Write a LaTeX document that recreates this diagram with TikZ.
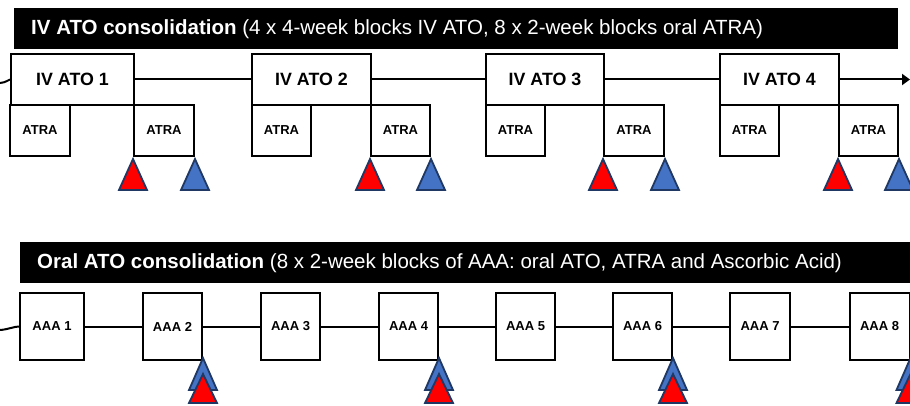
\documentclass[tikz,border=0pt]{standalone}
\usepackage{fontspec}
\setmainfont{Liberation Sans}
\usetikzlibrary{arrows.meta,calc}
\definecolor{tred}{HTML}{FF0000}
\definecolor{tblue}{HTML}{4472C4}
\definecolor{tedge}{HTML}{1F3864}
\newcommand{\mytri}[2]{\draw[tri,fill=#2] ($(#1)+(0,2)$) -- ++(-14,31) -- ++(28,0) -- cycle;}
\newcommand{\mytrib}[4]{\draw[tri,fill=#3] ($(#1)+(0,#2)$) -- ++(-14,#4) -- ++(28,0) -- cycle;}
\begin{document}
\begin{tikzpicture}[x=1pt,y=-1pt,
  ivbox/.style={draw,line width=2pt,fill=white,minimum height=51pt,inner sep=0pt,
    font=\fontsize{17.8}{20}\selectfont\bfseries},
  atrabox/.style={draw,line width=2pt,fill=white,minimum height=51pt,minimum width=59pt,inner sep=0pt,
    font=\fontsize{13}{15}\selectfont\bfseries},
  aaabox/.style={draw,line width=2pt,fill=white,minimum height=67pt,minimum width=59pt,inner sep=0pt,
    font=\fontsize{13}{15}\selectfont\bfseries},
  conn/.style={line width=2pt},
  tri/.style={draw=tedge,line width=1.8pt,line join=miter},
  bar/.style={fill=black},
  titletext/.style={anchor=base west,inner sep=0pt,text=white,font=\fontsize{20.5}{24}\selectfont}]
\useasboundingbox (0,0) rectangle (910,406);
% top title bar
\fill[bar] (14,8) rectangle (898,49);
\node[titletext] (t1) at (31,34.3) {\textbf{IV ATO consolidation} (4 x 4-week blocks IV ATO, 8 x 2-week blocks oral ATRA)};
% IV ATO boxes
\node[ivbox,minimum width=123pt] (iv1) at (72.5,79.5) {IV ATO 1};
\node[ivbox,minimum width=119pt] (iv2) at (311.5,79.5) {IV ATO 2};
\node[ivbox,minimum width=118pt] (iv3) at (545,79.5) {IV ATO 3};
\node[ivbox,minimum width=119pt] (iv4) at (779.5,79.5) {IV ATO 4};
% connectors
\coordinate (s1) at (0,83);
\coordinate (e1) at (910,79.5);
\draw[conn] (s1) .. controls (6,82.5) and (8,80) .. (iv1.west);
\draw[conn] (iv1) -- (iv2);
\draw[conn] (iv2) -- (iv3);
\draw[conn] (iv3) -- (iv4);
\draw[conn,-{Triangle[length=8pt,width=11pt]}] (iv4.east) -- (e1);
% ATRA boxes
\node[atrabox,minimum width=60pt] (a1l) at (40,130.5) {ATRA};
\node[atrabox,minimum width=60pt] (a1r) at (164,130.5) {ATRA};
\node[atrabox] (a2l) at (281.5,130.5) {ATRA};
\node[atrabox] (a2r) at (400.5,130.5) {ATRA};
\node[atrabox] (a3l) at (515.5,130.5) {ATRA};
\node[atrabox,minimum width=60pt] (a3r) at (634,130.5) {ATRA};
\node[atrabox] (a4l) at (749.5,130.5) {ATRA};
\node[atrabox] (a4r) at (868.5,130.5) {ATRA};
% top triangles
\mytri{a1r.south west}{tred}
\mytri{a1r.south east}{tblue}
\mytri{a2r.south west}{tred}
\mytri{a2r.south east}{tblue}
\mytri{a3r.south west}{tred}
\mytri{a3r.south east}{tblue}
\mytri{a4r.south west}{tred}
\mytri{a4r.south east}{tblue}
% bottom title bar
\fill[bar] (20,242) rectangle (910,283);
\node[titletext] (t2) at (37,268) {\textbf{Oral ATO consolidation} (8 x 2-week blocks of AAA: oral ATO, ATRA and Ascorbic Acid)};
% AAA boxes
\node[aaabox,minimum width=64pt] (b1) at (52,326.5) {AAA 1};
\node[aaabox] (b2) at (172.5,326.5) {AAA 2};
\node[aaabox] (b3) at (290.5,326.5) {AAA 3};
\node[aaabox] (b4) at (408.5,326.5) {AAA 4};
\node[aaabox] (b5) at (525.5,326.5) {AAA 5};
\node[aaabox] (b6) at (642.5,326.5) {AAA 6};
\node[aaabox,minimum width=60pt] (b7) at (760,326.5) {AAA 7};
\node[aaabox,minimum width=60pt] (b8) at (879.5,326.5) {AAA 8};
\coordinate (s2) at (0,330);
\draw[conn] (s2) .. controls (8,329.5) and (14,326.5) .. (b1.west);
\draw[conn] (b1) -- (b2);
\draw[conn] (b2) -- (b3);
\draw[conn] (b3) -- (b4);
\draw[conn] (b4) -- (b5);
\draw[conn] (b5) -- (b6);
\draw[conn] (b6) -- (b7);
\draw[conn] (b7) -- (b8);
% bottom triangles
\mytrib{b2.south east}{-3}{tblue}{32}
\mytrib{b2.south east}{13}{tred}{29}
\mytrib{b4.south east}{-3}{tblue}{32}
\mytrib{b4.south east}{13}{tred}{29}
\mytrib{b6.south east}{-3}{tblue}{32}
\mytrib{b6.south east}{13}{tred}{29}
\mytrib{b8.south east}{-3}{tblue}{32}
\mytrib{b8.south east}{13}{tred}{29}
\end{tikzpicture}
\end{document}
